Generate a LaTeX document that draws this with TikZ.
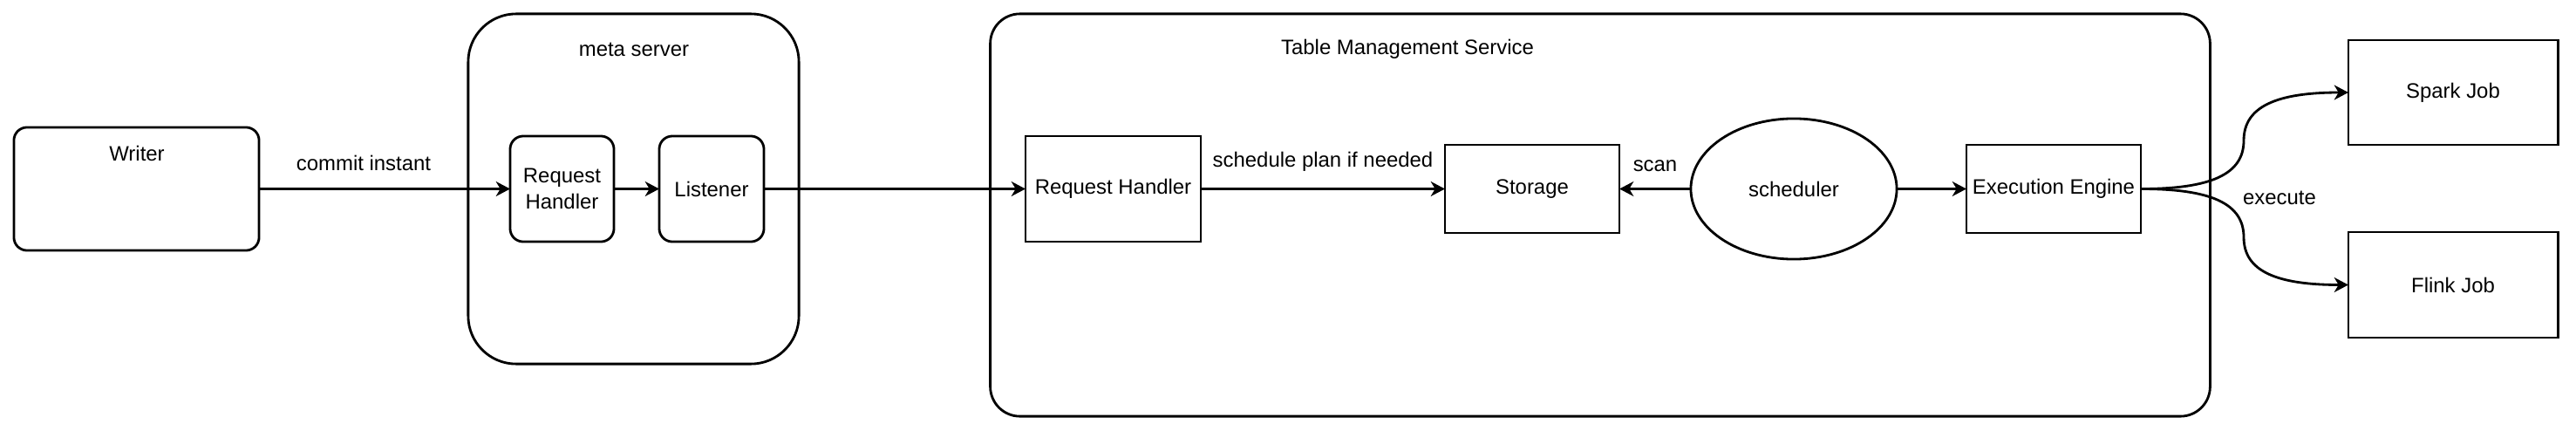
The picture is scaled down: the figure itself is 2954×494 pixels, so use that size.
\documentclass[tikz,border=0pt]{standalone}
\usepackage{fontspec}
\setmainfont{Liberation Sans}
\usetikzlibrary{arrows.meta,shapes.geometric}
\begin{document}
\begin{tikzpicture}[x=0.01cm,y=-0.01cm,
  font=\fontsize{6.8pt}{8.5pt}\selectfont,
  every node/.style={inner sep=0pt,outer sep=0pt},
  box/.style={draw,line width=0.8pt,align=center},
  rbox/.style={box,rounded corners=0.15cm},
  arr/.style={line width=0.8pt,-{Stealth[length=4.6pt,width=4.8pt,inset=1.4pt]}},
  lbl/.style={align=center}]
\useasboundingbox (0,0) rectangle (2954,494);
% containers
\node[box,rounded corners=0.55cm,minimum width=3.79cm,minimum height=4.01cm] (meta) at (726.5,216.5) {};
\node[lbl] (metatitle) at (727,57) {meta server};
\node[box,rounded corners=0.34cm,minimum width=13.98cm,minimum height=4.61cm] (tms) at (1835,246.5) {};
\node[lbl] (tmstitle) at (1614,56) {Table Management Service};
% nodes
\node[rbox,minimum width=2.81cm,minimum height=1.41cm] (writer) at (156.5,216.5) {};
\node[lbl] (writerlbl) at (157,176) {Writer};
\node[rbox,minimum width=1.19cm,minimum height=1.21cm] (rhm) at (644.5,216.5) {Request\\Handler};
\node[rbox,minimum width=1.20cm,minimum height=1.21cm] (listener) at (816,216.5) {Listener};
\node[box,minimum width=2.01cm,minimum height=1.21cm] (rht) at (1276.5,216.5) {Request Handler};
\node[box,minimum width=2.00cm,minimum height=1.01cm] (storage) at (1757,216.5) {Storage};
\node[draw,line width=0.8pt,ellipse,minimum width=2.36cm,minimum height=1.61cm] (sched) at (2057,216.5) {scheduler};
\node[box,minimum width=2.00cm,minimum height=1.01cm] (ee) at (2355,216.5) {Execution Engine};
\node[box,minimum width=2.40cm,minimum height=1.20cm] (spark) at (2813,106) {Spark Job};
\node[box,minimum width=2.40cm,minimum height=1.21cm] (flink) at (2813,326.5) {Flink Job};
% connectors
\draw[arr] (writer) -- (rhm);
\node[lbl] (commitlbl) at (417,187) {commit instant};
\draw[arr] (rhm) -- (listener);
\draw[arr] (listener) -- (rht);
\draw[arr] (rht) -- node[lbl,above=0.2cm] (planlbl) {schedule plan if needed} (storage);
\draw[arr] (sched) -- node[lbl,above=0.2cm] (scanlbl) {scan} (storage);
\draw[arr] (sched) -- (ee);
\draw[arr] (ee.east) .. controls (2535,216.5) and (2573,200) .. (2573,161)
  .. controls (2573,122) and (2611,106) .. (spark.west);
\draw[arr] (ee.east) .. controls (2535,216.5) and (2573,233) .. (2573,272)
  .. controls (2573,311) and (2611,326.5) .. (flink.west);
\node[lbl] (execlbl) at (2614,227) {execute};
\end{tikzpicture}
\end{document}
